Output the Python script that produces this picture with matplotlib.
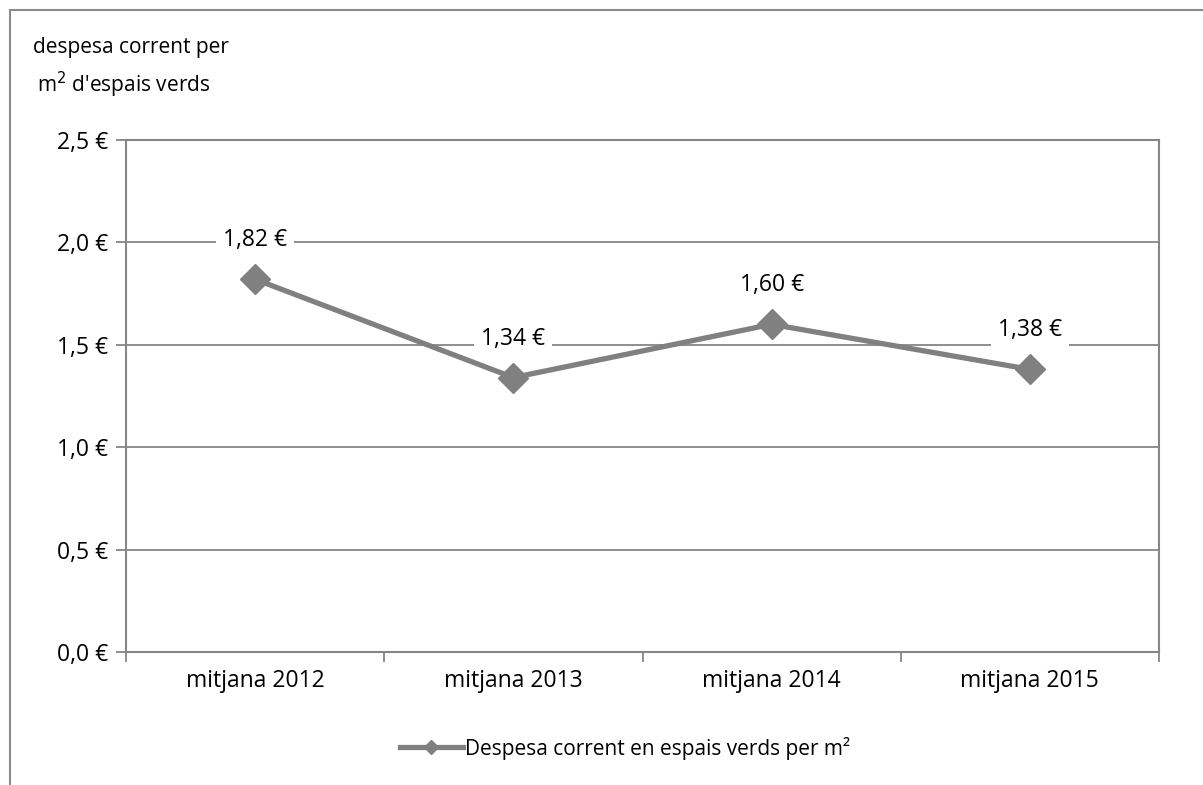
import matplotlib.pyplot as plt
from matplotlib.patches import Rectangle
from matplotlib.lines import Line2D

# dades
categories = ["mitjana 2012", "mitjana 2013", "mitjana 2014", "mitjana 2015"]
values = [1.82, 1.34, 1.60, 1.38]
value_labels = ["1,82 €", "1,34 €", "1,60 €", "1,38 €"]
y_ticks = [0.0, 0.5, 1.0, 1.5, 2.0, 2.5]
y_tick_labels = ["0,0 €", "0,5 €", "1,0 €", "1,5 €", "2,0 €", "2,5 €"]
series_name = "Despesa corrent en espais verds per m²"

plt.rcParams['font.family'] = ['Open Sans', 'DejaVu Sans']

W, H = 1203, 785
fig = plt.figure(figsize=(W / 100, H / 100), dpi=100)

# marc exterior del gràfic
fig.patches.append(Rectangle((10 / W, -0.1), 1.2, 1 - 10 / H + 0.1, transform=fig.transFigure,
                             fill=False, edgecolor="#8c8c8c", linewidth=1.5))

ax = fig.add_axes([126 / W, 1 - 652 / H, (1159 - 126) / W, (652 - 140) / H])
grey = "#868686"
x = list(range(len(categories)))

ax.set_xlim(-0.5, len(categories) - 0.5)
ax.set_ylim(0, 2.5)
for y in y_ticks[1:]:
    ax.axhline(y, color=grey, linewidth=1.3, zorder=1)

ax.plot(x, values, color="#808080", linewidth=3.8, marker="D", markersize=15,
        zorder=3, solid_capstyle="round")

# etiquetes de dades, una mica per sobre de cada punt
for xi, v, lab in zip(x, values, value_labels):
    ax.text(xi, v + 0.19, lab, ha="center", va="center", fontsize=16.5, color="black",
            bbox=dict(facecolor="white", edgecolor="none", pad=5), zorder=4)

ax.set_yticks(y_ticks)
ax.set_yticklabels(y_tick_labels)
ax.set_xticks(x)
ax.set_xticklabels(categories)
ax.set_xticks([i - 0.5 for i in range(len(categories) + 1)], minor=True)
ax.tick_params(axis="x", which="major", length=0, pad=12, labelsize=16.5)
ax.tick_params(axis="x", which="minor", length=7, width=1.3, color=grey)
ax.tick_params(axis="y", length=7, width=1.3, color=grey, pad=6, labelsize=16.5)
for s in ax.spines.values():
    s.set_color(grey)
    s.set_linewidth(1.5)

fig.text(33 / W, 1 - 47 / H, "despesa corrent per", fontsize=15, va="center", ha="left")
fig.text(37 / W, 1 - 85 / H, "m$^2$ d'espais verds", fontsize=15, va="center", ha="left")

handle = Line2D([0], [0], color="#808080", linewidth=3.8, marker="D", markersize=7)
fig.legend([handle], [series_name], loc="center", bbox_to_anchor=(625 / W, 1 - 748 / H),
           frameon=False, fontsize=15, handlelength=3.0, handletextpad=0.1)

fig.savefig("out.png", dpi=100)
